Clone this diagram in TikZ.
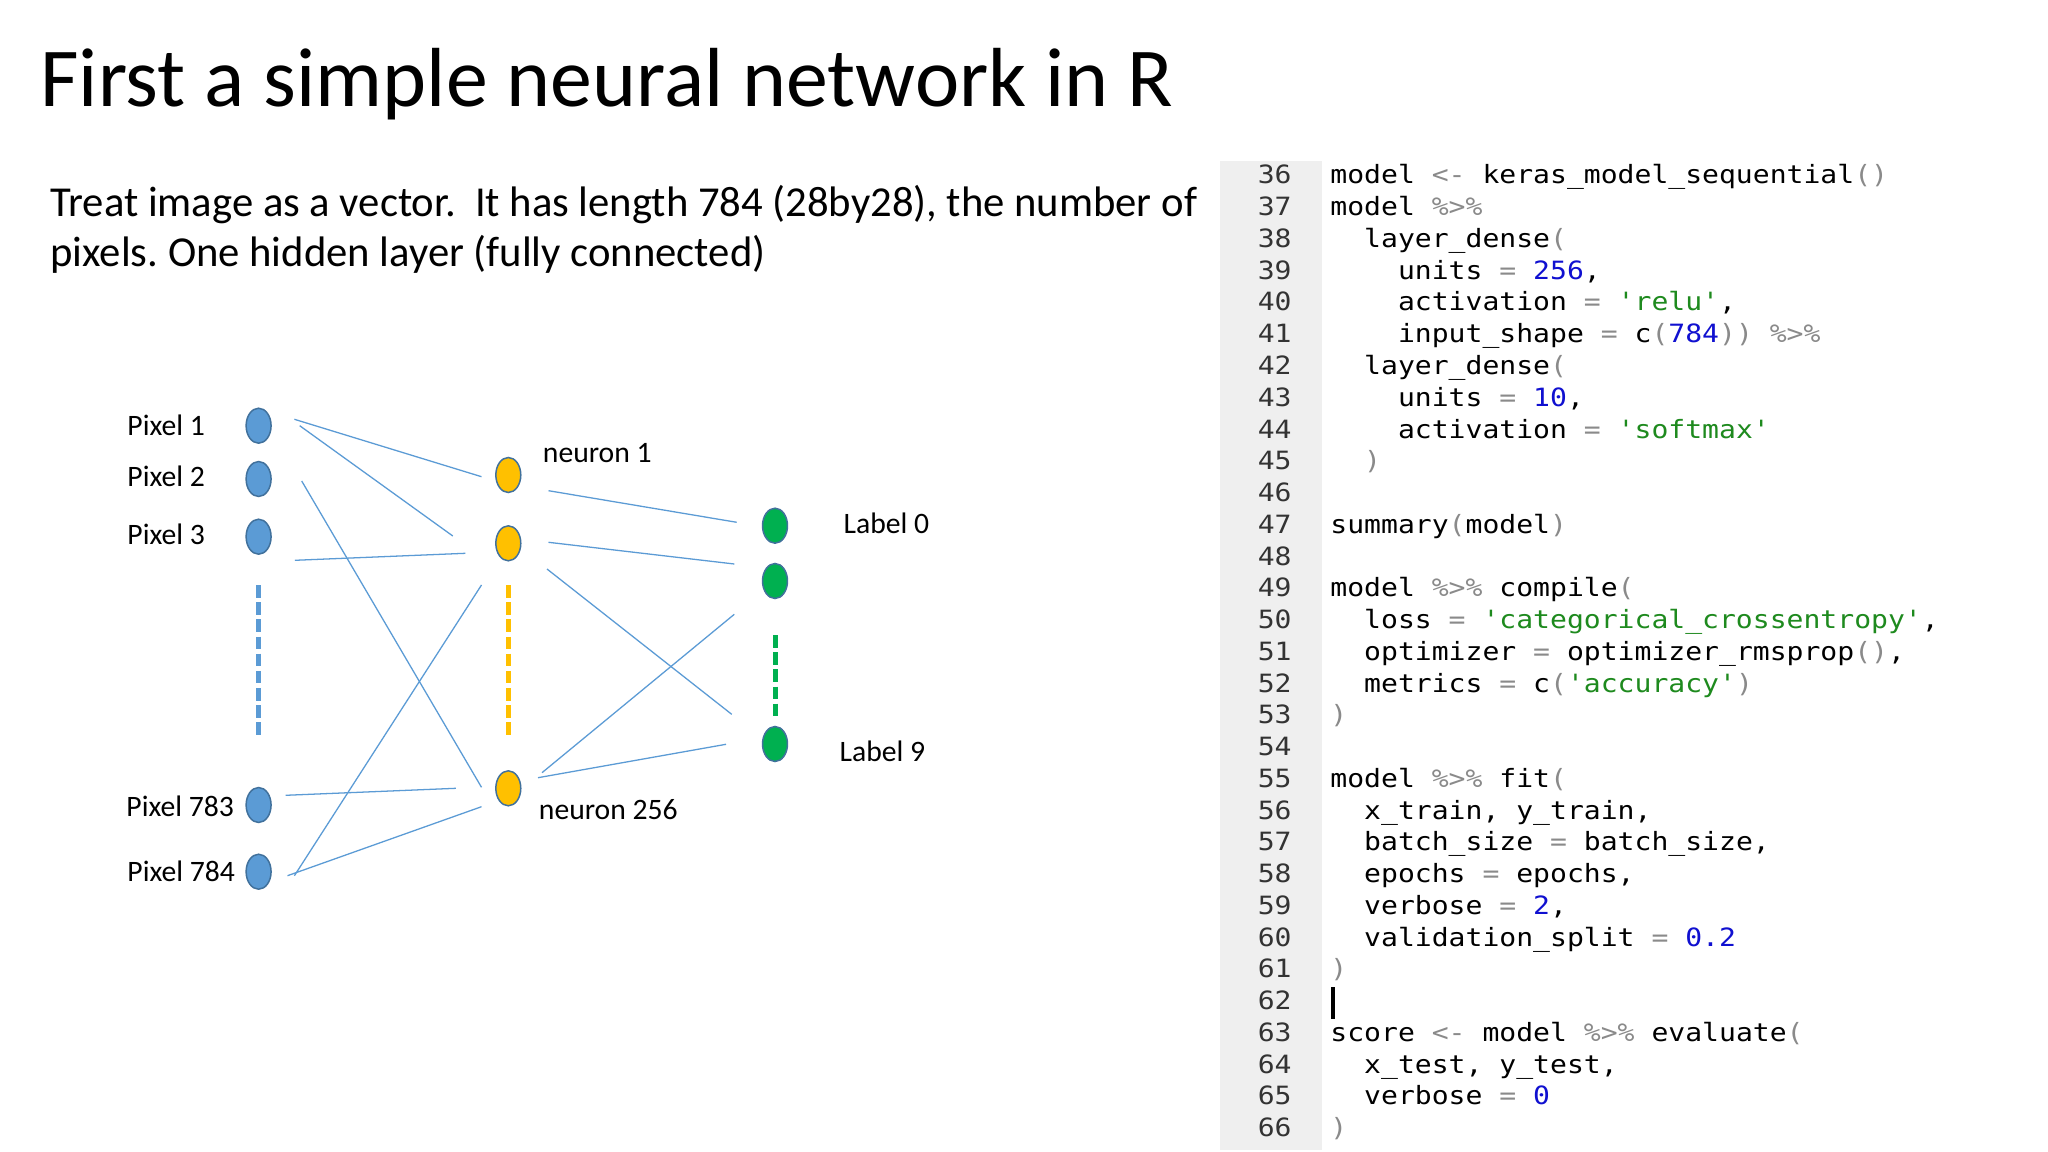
\documentclass[tikz,border=0pt]{standalone}
\usepackage{fontspec}
\setmainfont{Carlito}
\setmonofont[FakeStretch=1.115]{DejaVu Sans Mono}
\usetikzlibrary{shapes.geometric}
\definecolor{nnblue}{HTML}{5B9BD5}
\definecolor{nnyellow}{HTML}{FFC000}
\definecolor{nngreen}{HTML}{00B050}
\definecolor{nnedge}{HTML}{41719C}
\definecolor{gutterbg}{HTML}{EFEFEF}
\definecolor{lnum}{HTML}{333333}
\definecolor{codeop}{HTML}{8A8A8A}
\definecolor{codenum}{HTML}{1010D0}
\definecolor{codestr}{HTML}{1E8A1E}
\newcommand{\CodeOp}[1]{\textcolor{codeop}{#1}}
\newcommand{\CodeNum}[1]{\textcolor{codenum}{#1}}
\newcommand{\CodeStr}[1]{\textcolor{codestr}{#1}}
\tikzset{
  neuronnode/.style={ellipse, draw=nnedge, line width=0.7pt, minimum width=11.7pt, minimum height=16.4pt, inner sep=0pt},
  bluen/.style={neuronnode, fill=nnblue},
  yellown/.style={neuronnode, fill=nnyellow},
  greenn/.style={neuronnode, fill=nngreen},
  wire/.style={draw=nnblue, line width=0.6pt},
  ellipsisdash/.style={line width=2.1pt, dash pattern=on 5.9pt off 2.15pt},
  lbl/.style={anchor=base west, inner sep=0pt, font=\fontsize{13.9}{16}\selectfont},
  codeline/.style={anchor=base west, inner sep=0pt, font=\ttfamily\fontsize{11.8}{14}\selectfont},
  lineno/.style={anchor=base east, inner sep=0pt, text=lnum, font=\ttfamily\fontsize{11.8}{14}\selectfont}
}
\begin{document}
\frenchspacing
\begin{tikzpicture}[x=0.46875pt, y=-0.46875pt]
\useasboundingbox (0,0) rectangle (2048,1152);
\fill[white] (0,0) rectangle (2048,1152);

% title and intro
\node[anchor=base west, inner sep=0pt, font=\fontsize{39.3}{47}\selectfont] (title) at (40,107) {First a simple neural network in R};
\node[anchor=base west, inner sep=0pt, font=\fontsize{20}{24}\selectfont] (intro1) at (50,216.7) {Treat image as a vector.\ \ It has length 784 (28by28), the number of};
\node[anchor=base west, inner sep=0pt, font=\fontsize{20}{24}\selectfont] (intro2) at (50,266.7) {pixels. One hidden layer (fully connected)};

% input layer
\node[bluen] (p1) at (258.6,425.7) {};
\node[bluen] (p2) at (258.6,479) {};
\node[bluen] (p3) at (258.6,536.7) {};
\node[bluen] (p783) at (258.6,805) {};
\node[bluen] (p784) at (258.6,871.7) {};
\node[lbl] (lp1) at (127,435) {Pixel 1};
\node[lbl] (lp2) at (127,486.7) {Pixel 2};
\node[lbl] (lp3) at (127,544.3) {Pixel 3};
\node[lbl] (lp783) at (126,816.7) {Pixel 783};
\node[lbl] (lp784) at (127,881.7) {Pixel 784};

% hidden layer
\node[yellown] (h1) at (508.3,475) {};
\node[yellown] (h2) at (508.3,543.3) {};
\node[yellown] (h256) at (508.3,788.3) {};
\node[lbl] (lh1) at (542.5,462.3) {neuron 1};
\node[lbl] (lh256) at (538.5,819) {neuron 256};

% output layer
\node[greenn] (o0) at (775,525.7) {};
\node[greenn] (o1) at (775,581) {};
\node[greenn] (o9) at (775,744) {};
\node[lbl] (lo0) at (843.3,533.3) {Label 0};
\node[lbl] (lo9) at (839.3,761.7) {Label 9};

% ellipsis dashes
\coordinate (bd1) at (258.6,585); \coordinate (bd2) at (258.6,737);
\coordinate (yd1) at (508.6,585); \coordinate (yd2) at (508.6,737);
\coordinate (gd1) at (775.5,635); \coordinate (gd2) at (775.5,717);
\draw[ellipsisdash, nnblue] (bd1) -- (bd2);
\draw[ellipsisdash, nnyellow] (yd1) -- (yd2);
\draw[ellipsisdash, nngreen] (gd1) -- (gd2);

% connector end points
\coordinate (w1a) at (294.4,419.3); \coordinate (w1b) at (481.5,476.7);
\coordinate (w2a) at (299.7,425.7); \coordinate (w2b) at (452.8,536);
\coordinate (w3a) at (301.7,481);   \coordinate (w3b) at (481.5,787.3);
\coordinate (w4a) at (294.8,560.3); \coordinate (w4b) at (465.4,553.3);
\coordinate (w5a) at (285.6,795.3); \coordinate (w5b) at (455.9,788.3);
\coordinate (w6a) at (287.5,875.7); \coordinate (w6b) at (481.5,806.7);
\coordinate (w7a) at (294.4,875.7); \coordinate (w7b) at (481.5,585);
\coordinate (w8a) at (548.5,490.7); \coordinate (w8b) at (736.7,522.3);
\coordinate (w9a) at (548.5,542.3); \coordinate (w9b) at (734.3,564);
\coordinate (w10a) at (547,569);    \coordinate (w10b) at (731.7,714.3);
\coordinate (w11a) at (542,772.7);  \coordinate (w11b) at (734.3,614.3);
\coordinate (w12a) at (538,777.7);  \coordinate (w12b) at (726,744.3);
\foreach \w in {1,...,12} \draw[wire] (w\w a) -- (w\w b);

% code panel
\fill[gutterbg] (1219.5,161) rectangle (1322,1150);
\foreach \k in {36,...,66} \node[lineno] (n\k) at (1292,{184+(\k-36)*31.75}) {\k};

\node[codeline] (c36) at (1330,184) {model \CodeOp{<-} keras\_model\_sequential\CodeOp{()}};
\node[codeline] (c37) at (1330,215.75) {model \CodeOp{\%>\%}};
\node[codeline] (c38) at (1363.8,247.5) {layer\_dense\CodeOp{(}};
\node[codeline] (c39) at (1397.6,279.25) {units \CodeOp{=} \CodeNum{256},};
\node[codeline] (c40) at (1397.6,311) {activation \CodeOp{=} \CodeStr{'relu'},};
\node[codeline] (c41) at (1397.6,342.75) {input\_shape \CodeOp{=} c\CodeOp{(}\CodeNum{784}\CodeOp{))} \CodeOp{\%>\%}};
\node[codeline] (c42) at (1363.8,374.5) {layer\_dense\CodeOp{(}};
\node[codeline] (c43) at (1397.6,406.25) {units \CodeOp{=} \CodeNum{10},};
\node[codeline] (c44) at (1397.6,438) {activation \CodeOp{=} \CodeStr{'softmax'}};
\node[codeline] (c45) at (1363.8,469.75) {\CodeOp{)}};
\node[codeline] (c47) at (1330,533.25) {summary\CodeOp{(}model\CodeOp{)}};
\node[codeline] (c49) at (1330,596.75) {model \CodeOp{\%>\%} compile\CodeOp{(}};
\node[codeline] (c50) at (1363.8,628.5) {loss \CodeOp{=} \CodeStr{'categorical\_crossentropy'},};
\node[codeline] (c51) at (1363.8,660.25) {optimizer \CodeOp{=} optimizer\_rmsprop\CodeOp{()},};
\node[codeline] (c52) at (1363.8,692) {metrics \CodeOp{=} c\CodeOp{(}\CodeStr{'accuracy'}\CodeOp{)}};
\node[codeline] (c53) at (1330,723.75) {\CodeOp{)}};
\node[codeline] (c55) at (1330,787.25) {model \CodeOp{\%>\%} fit\CodeOp{(}};
\node[codeline] (c56) at (1363.8,819) {x\_train, y\_train,};
\node[codeline] (c57) at (1363.8,850.75) {batch\_size \CodeOp{=} batch\_size,};
\node[codeline] (c58) at (1363.8,882.5) {epochs \CodeOp{=} epochs,};
\node[codeline] (c59) at (1363.8,914.25) {verbose \CodeOp{=} \CodeNum{2},};
\node[codeline] (c60) at (1363.8,946) {validation\_split \CodeOp{=} \CodeNum{0.2}};
\node[codeline] (c61) at (1330,977.75) {\CodeOp{)}};
\node[codeline] (c63) at (1330,1041.25) {score \CodeOp{<-} model \CodeOp{\%>\%} evaluate\CodeOp{(}};
\node[codeline] (c64) at (1363.8,1073) {x\_test, y\_test,};
\node[codeline] (c65) at (1363.8,1104.75) {verbose \CodeOp{=} \CodeNum{0}};
\node[codeline] (c66) at (1330,1136.5) {\CodeOp{)}};

% text cursor
\fill[black] (1331,987) rectangle (1335,1018.5);
\end{tikzpicture}
\end{document}
